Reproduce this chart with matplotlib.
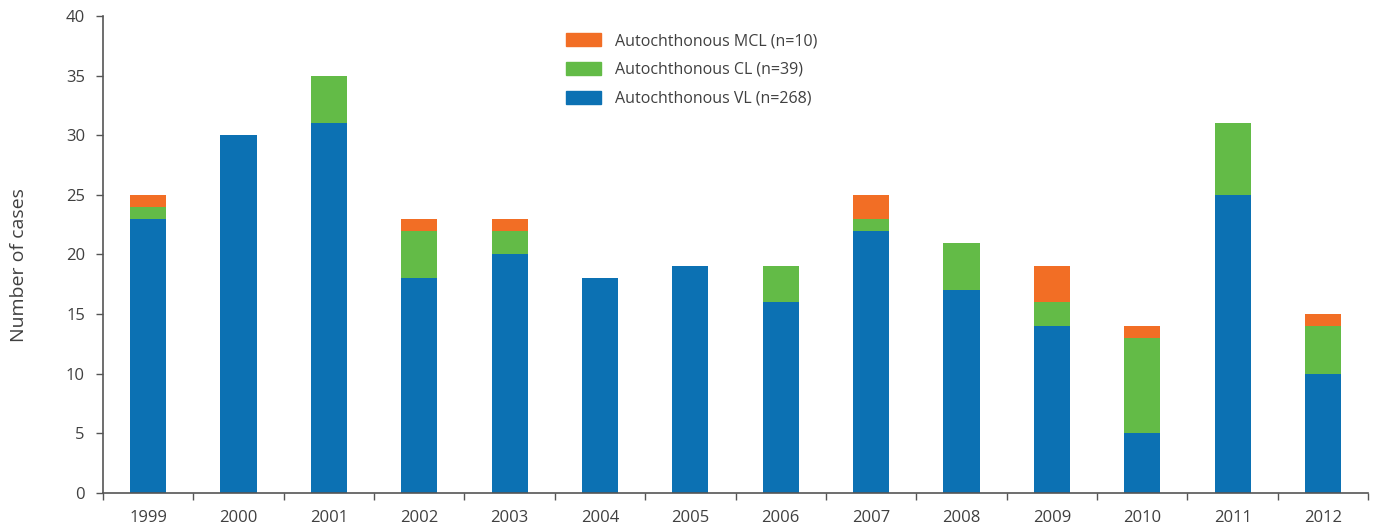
import matplotlib.pyplot as plt
import numpy as np
from matplotlib.patches import Patch

plt.rcParams['font.family'] = ['Open Sans', 'DejaVu Sans']

years = ['1999', '2000', '2001', '2002', '2003', '2004', '2005',
         '2006', '2007', '2008', '2009', '2010', '2011', '2012']
vl = [23, 30, 31, 18, 20, 18, 19, 16, 22, 17, 14, 5, 25, 10]
cl = [1, 0, 4, 4, 2, 0, 0, 3, 1, 4, 2, 8, 6, 4]
mcl = [1, 0, 0, 1, 1, 0, 0, 0, 2, 0, 3, 1, 0, 1]

c_vl = '#0C71B3'
c_cl = '#63BB47'
c_mcl = '#F26E25'
txt = '#404040'

fig = plt.figure(figsize=(13.75, 5.3), dpi=100)
ax = fig.add_axes([0.0749, 0.0698, 0.9201, 0.9002])

x = np.arange(len(years))
vl = np.array(vl)
cl = np.array(cl)
mcl = np.array(mcl)
w = 0.4
ax.bar(x, vl, w, color=c_vl)
ax.bar(x, cl, w, bottom=vl, color=c_cl)
ax.bar(x, mcl, w, bottom=vl + cl, color=c_mcl)

ax.set_xlim(-0.5, len(years) - 0.5)
ax.set_ylim(0, 40)
ax.set_yticks(range(0, 41, 5))
ax.tick_params(axis='y', direction='out', length=5, width=1, colors='#555555',
               labelcolor=txt, labelsize=12, pad=8)

ax.set_xticks(x)
ax.set_xticklabels(years)
ax.set_xticks(np.arange(-0.5, len(years), 1), minor=True)
ax.tick_params(axis='x', which='major', length=0, labelcolor=txt,
               labelsize=12, pad=12)
ax.tick_params(axis='x', which='minor', direction='out', length=5, width=1,
               colors='#555555')

for s in ['top', 'right']:
    ax.spines[s].set_visible(False)
for s in ['left', 'bottom']:
    ax.spines[s].set_color('#555555')
    ax.spines[s].set_linewidth(1.2)

fig.text(0.014, 0.5, 'Number of cases', rotation=90, va='center', ha='center',
         fontsize=14, color=txt)

handles = [Patch(color=c_mcl, label='Autochthonous MCL (n=10)'),
           Patch(color=c_cl, label='Autochthonous CL (n=39)'),
           Patch(color=c_vl, label='Autochthonous VL (n=268)')]
leg = fig.legend(handles=handles, loc='upper left',
                 bbox_to_anchor=(0.401, 0.965), frameon=False, fontsize=11.5,
                 handlelength=2.2, handleheight=0.9, handletextpad=0.9,
                 labelspacing=0.8, labelcolor=txt)

plt.savefig('out.png')
